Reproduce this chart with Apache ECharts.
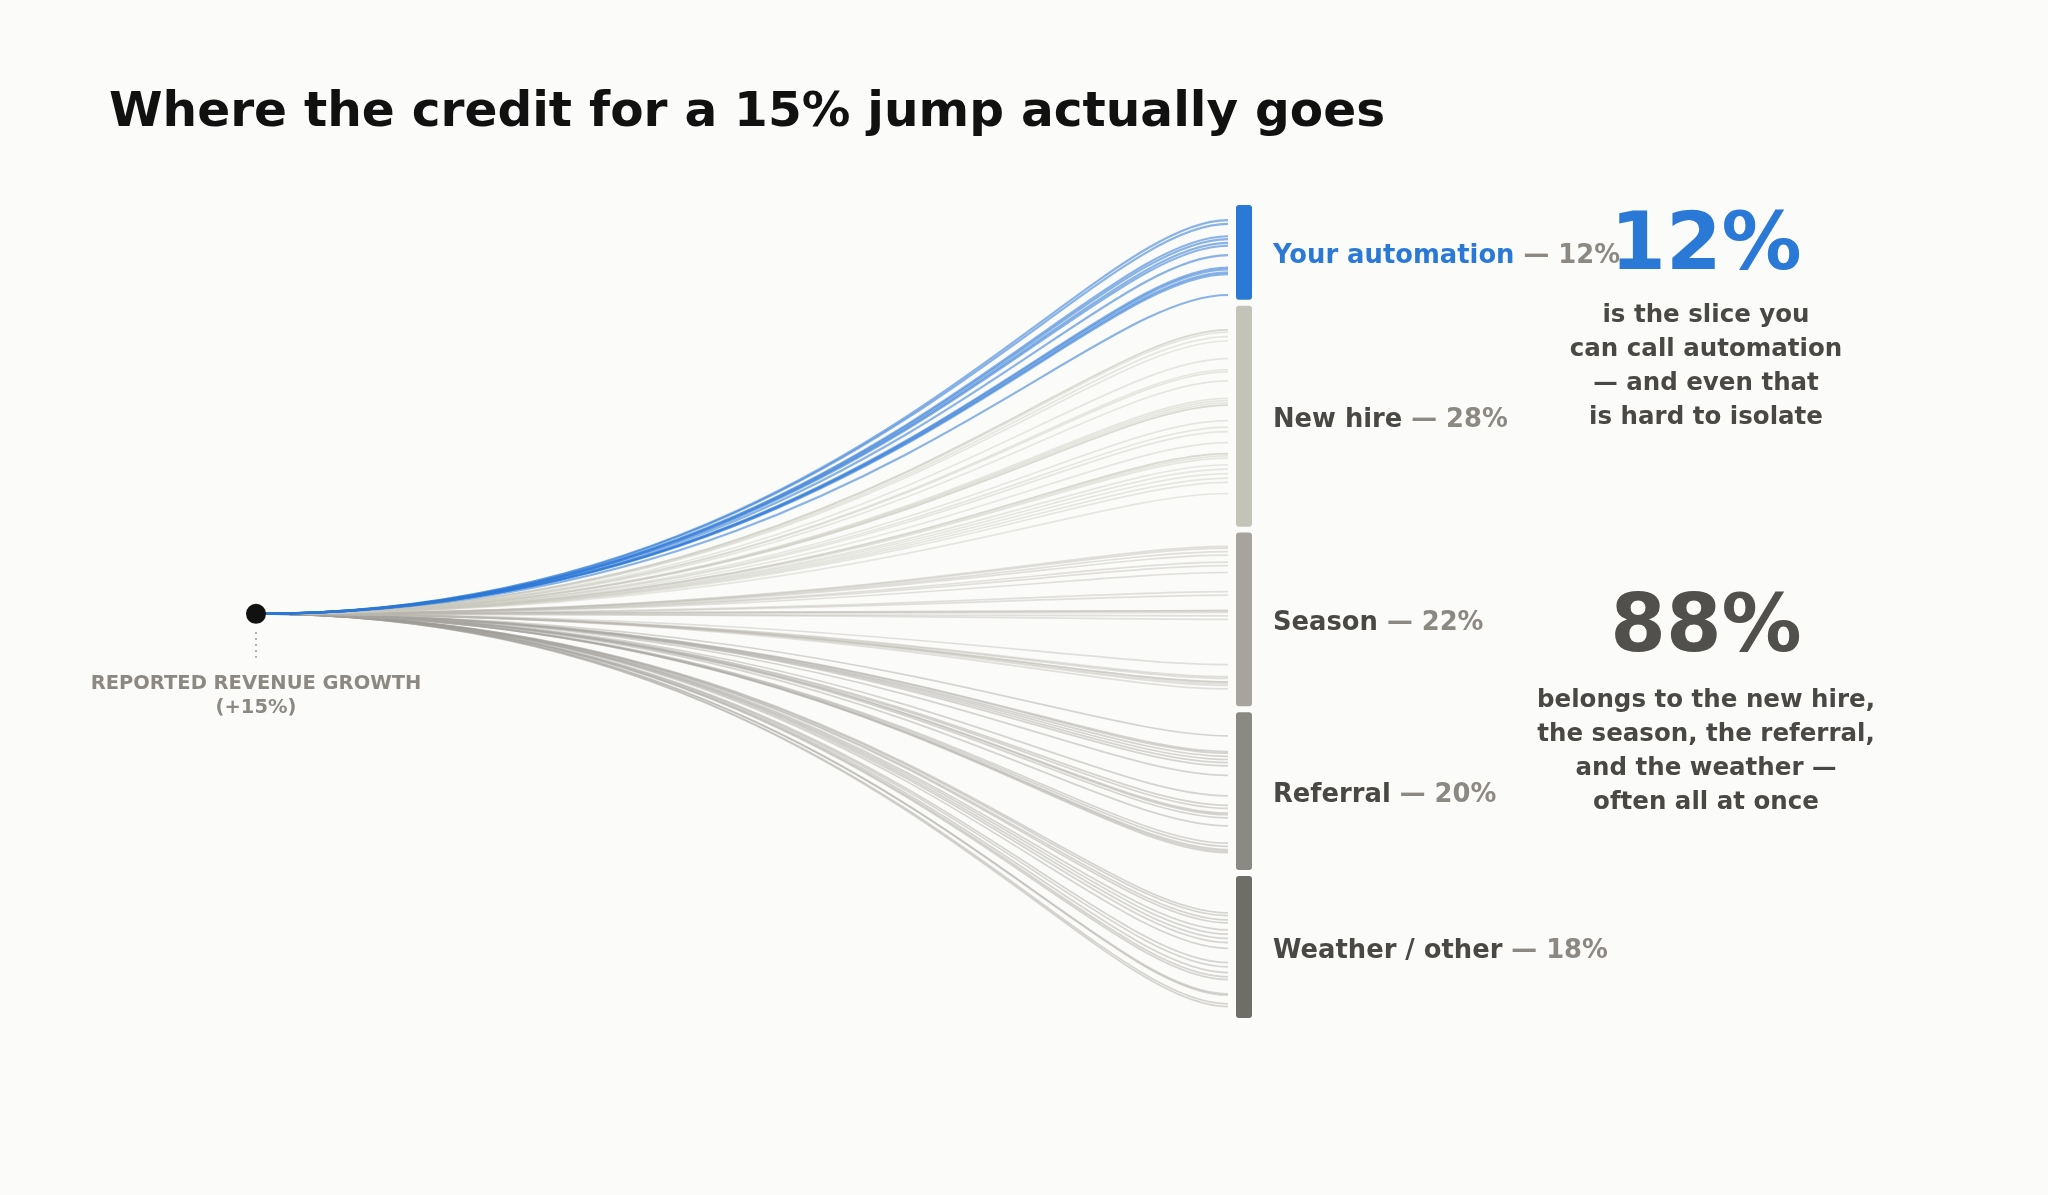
<!DOCTYPE html>
<html>
<head>
<meta charset="utf-8">
<style>
  html, body { margin: 0; padding: 0; background: #fbfbf9; }
  #chart { width: 2048px; height: 1195px; }
</style>
<script src="https://cdn.jsdelivr.net/npm/echarts@6/dist/echarts.min.js"></script>
</head>
<body>
<div id="chart"></div>
<script>
// ---- data ----
const categories = ['Your automation', 'New hire', 'Season', 'Referral', 'Weather / other'];
const shares = [12, 28, 22, 20, 18];
const reportedGrowth = 15;
// where each individual strand lands inside its bucket (0 = top of bucket, 1 = bottom)
const endsAutomation = [0.16, 0.20, 0.33, 0.36, 0.40, 0.43, 0.53, 0.66, 0.68, 0.71, 0.73, 0.95];
const endsNewHire = [0.11, 0.11, 0.12, 0.14, 0.16, 0.24, 0.29, 0.30, 0.34, 0.42, 0.43, 0.44, 0.45, 0.45,
  0.52, 0.55, 0.57, 0.62, 0.67, 0.67, 0.68, 0.69, 0.72, 0.74, 0.76, 0.78, 0.80, 0.85];
const endsSeason = [0.08, 0.09, 0.11, 0.13, 0.17, 0.19, 0.23, 0.34, 0.36, 0.45, 0.45, 0.46, 0.48, 0.50,
  0.76, 0.83, 0.84, 0.86, 0.86, 0.87, 0.88, 0.90];
const endsReferral = [0.15, 0.25, 0.26, 0.28, 0.30, 0.32, 0.34, 0.40, 0.53, 0.59, 0.61, 0.64, 0.65, 0.67,
  0.72, 0.83, 0.85, 0.87, 0.88, 0.89];
const endsWeather = [0.26, 0.28, 0.31, 0.33, 0.38, 0.41, 0.44, 0.47, 0.51, 0.61, 0.64, 0.68, 0.71, 0.73,
  0.83, 0.84, 0.90, 0.92];
const strandEnds = [endsAutomation, endsNewHire, endsSeason, endsReferral, endsWeather];

// ---- styling ----
const FONT = 'DejaVu Sans';
const BLUE = '#2b79d7';
const barColors = [BLUE, '#c4c3b8', '#a6a49d', '#8b8983', '#6f6d68'];
const strandColors = [BLUE, '#c9c8bf', '#b8b6b0', '#a6a49f', '#a09e99'];
const strandOpacity = [0.55, 0.4, 0.4, 0.45, 0.42];
const strandWidth = [2.2, 1.7, 1.7, 1.7, 1.7];
const GAP = 0.75;                       // gap between buckets in share units
const Y_MAX = 100 + GAP * (shares.length - 1);
const ORIGIN_Y = 51.8;

const segStart = [];
{ let acc = 0; shares.forEach((s, i) => { segStart.push(acc); acc += s + GAP; }); }

const strandData = [];
for (let i = categories.length - 1; i >= 0; i--) {
  strandEnds[i].forEach(f => strandData.push([i, f]));
}

const chart = echarts.init(document.getElementById('chart'));
const automationShare = shares[0];
const restShare = 100 - automationShare;

chart.setOption({
  backgroundColor: '#fbfbf9',
  animation: false,
  title: {
    text: 'Where the credit for a 15% jump actually goes',
    left: 104, top: 84,
    textStyle: { fontFamily: FONT, fontSize: 48.6, fontWeight: 'bold', color: '#111111' }
  },
  grid: { left: 256, right: 820, top: 205, bottom: 177 },
  xAxis: { type: 'value', min: 0, max: 1, show: false },
  yAxis: { type: 'value', min: 0, max: Y_MAX, inverse: true, show: false },
  series: [
    {
      type: 'custom',
      clip: false,
      silent: true,
      data: strandData,
      renderItem: function (params, api) {
        const i = api.value(0);
        const f = api.value(1);
        const yEnd = segStart[i] + f * shares[i];
        const p0 = api.coord([0, ORIGIN_Y]);
        const p1 = api.coord([1, yEnd]);
        const dx = p1[0] - p0[0];
        return {
          type: 'bezierCurve',
          shape: {
            x1: p0[0], y1: p0[1], x2: p1[0], y2: p1[1],
            cpx1: p0[0] + 0.6 * dx, cpy1: p0[1],
            cpx2: p0[0] + 0.85 * dx, cpy2: p1[1]
          },
          style: { fill: 'none', stroke: strandColors[i], lineWidth: strandWidth[i], opacity: strandOpacity[i] }
        };
      }
    },
    {
      type: 'custom',
      clip: false,
      silent: true,
      data: categories.map((c, i) => [i]),
      renderItem: function (params, api) {
        const i = api.value(0);
        const top = api.coord([1, segStart[i]]);
        const bot = api.coord([1, segStart[i] + shares[i]]);
        const mid = (top[1] + bot[1]) / 2;
        return {
          type: 'group',
          children: [
            {
              type: 'rect',
              shape: { x: top[0] + 8, y: top[1], width: 16, height: bot[1] - top[1], r: 3 },
              style: { fill: barColors[i] }
            },
            {
              type: 'text',
              x: top[0] + 45, y: mid + 4,
              style: {
                text: '{n|' + categories[i] + '}{p| — ' + shares[i] + '%}',
                verticalAlign: 'middle', align: 'left',
                rich: {
                  n: { fontFamily: FONT, fontSize: 25.8, fontWeight: 'bold', fill: i === 0 ? BLUE : '#4a4845' },
                  p: { fontFamily: FONT, fontSize: 25.8, fontWeight: 'bold', fill: '#8c8983' }
                }
              }
            }
          ]
        };
      }
    },
    {
      type: 'scatter',
      silent: true,
      data: [[0, ORIGIN_Y]],
      symbolSize: 20,
      itemStyle: { color: '#111111', opacity: 1 },
      z: 10
    }
  ],
  graphic: [
    {
      type: 'line',
      shape: { x1: 256, y1: 632, x2: 256, y2: 660 },
      style: { stroke: '#b5b4ae', lineWidth: 2, lineDash: [2, 4] }
    },
    {
      type: 'text',
      x: 256, y: 696,
      style: {
        text: 'REPORTED REVENUE GROWTH\n(+' + reportedGrowth + '%)',
        align: 'center', verticalAlign: 'middle',
        fontFamily: FONT, fontSize: 19.5, fontWeight: 'bold', fill: '#8c8983', lineHeight: 24
      }
    },
    {
      type: 'text',
      x: 1706, y: 248,
      style: {
        text: automationShare + '%', align: 'center', verticalAlign: 'middle',
        fontFamily: FONT, fontSize: 80, fontWeight: 'bold', fill: BLUE
      }
    },
    {
      type: 'text',
      x: 1706, y: 367,
      style: {
        text: 'is the slice you\ncan call automation\n— and even that\nis hard to isolate',
        align: 'center', verticalAlign: 'middle',
        fontFamily: FONT, fontSize: 24.5, fontWeight: 'bold', fill: '#4a4845', lineHeight: 34
      }
    },
    {
      type: 'text',
      x: 1706, y: 630,
      style: {
        text: restShare + '%', align: 'center', verticalAlign: 'middle',
        fontFamily: FONT, fontSize: 80, fontWeight: 'bold', fill: '#52504c'
      }
    },
    {
      type: 'text',
      x: 1706, y: 752,
      style: {
        text: 'belongs to the new hire,\nthe season, the referral,\nand the weather —\noften all at once',
        align: 'center', verticalAlign: 'middle',
        fontFamily: FONT, fontSize: 24.5, fontWeight: 'bold', fill: '#4a4845', lineHeight: 34
      }
    }
  ]
});
</script>
</body>
</html>
